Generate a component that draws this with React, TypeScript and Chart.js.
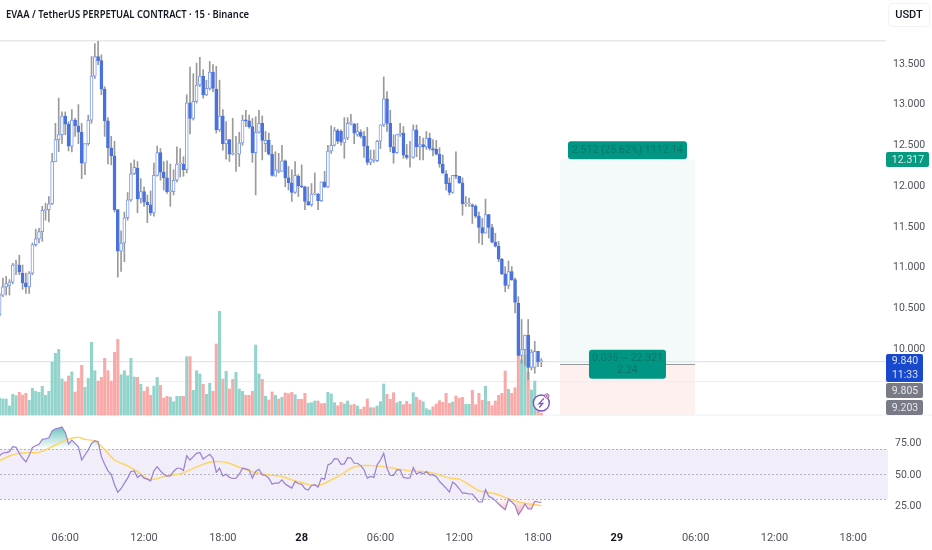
import React, { useEffect, useRef } from "react";
import { Chart, registerables } from "chart.js";

Chart.register(...registerables);

const opens = [
  10.41,10.65,10.75,10.77,10.81,11.02,11.02,10.92,10.80,10.75,
  10.92,11.27,11.34,11.43,11.69,11.70,11.77,12.29,12.56,12.62,
  12.85,12.75,12.48,12.80,12.73,12.65,12.27,12.51,12.80,13.34,
  13.58,13.53,13.18,12.79,12.46,12.36,11.70,11.19,11.29,11.60,
  11.82,12.14,12.21,11.83,11.92,11.79,11.76,11.66,12.12,12.40,
  12.16,12.09,11.92,11.92,12.06,12.26,12.26,12.19,13.01,12.82,
  13.03,13.23,13.34,13.11,13.19,13.39,13.18,12.68,12.85,12.51,
  12.56,12.38,12.38,12.38,12.52,12.80,12.79,12.72,12.40,12.65,
  12.76,12.51,12.55,12.38,12.11,12.17,12.17,12.30,12.09,12.03,
  11.91,12.11,11.99,11.98,11.80,11.76,11.89,11.89,11.81,12.04,
  11.98,12.42,12.49,12.67,12.66,12.52,12.58,12.76,12.75,12.62,
  12.65,12.60,12.48,12.28,12.30,12.30,12.54,12.74,13.06,12.76,
  12.47,12.40,12.62,12.64,12.37,12.34,12.34,12.68,12.47,12.50,
  12.47,12.58,12.45,12.44,12.38,12.26,12.14,12.03,11.91,12.12,
  12.11,12.03,11.77,11.77,11.76,11.74,11.62,11.48,11.41,11.64,
  11.48,11.30,11.25,11.09,10.91,10.77,10.94,10.84,10.55,9.91,
  9.98,10.16,9.76,9.76,9.96,9.83,
];
const closes = [
  10.65,10.75,10.79,10.81,11.02,11.02,10.93,10.80,10.75,10.92,
  11.27,11.34,11.43,11.69,11.70,11.77,12.29,12.56,12.62,12.85,
  12.75,12.48,12.80,12.73,12.65,12.27,12.51,12.80,13.34,13.58,
  13.53,13.18,12.79,12.46,12.36,11.70,11.19,11.29,11.60,11.82,
  12.14,12.22,11.83,11.92,11.79,11.76,11.66,12.12,12.40,12.16,
  12.09,11.92,11.93,12.06,12.26,12.26,12.19,13.01,12.82,13.03,
  13.23,13.34,13.11,13.19,13.39,13.19,12.68,12.85,12.51,12.56,
  12.38,12.38,12.38,12.52,12.80,12.79,12.72,12.40,12.65,12.76,
  12.55,12.55,12.38,12.12,12.19,12.19,12.30,12.09,12.03,11.91,
  12.12,11.99,11.98,11.80,11.76,11.89,11.89,11.81,12.04,11.98,
  12.42,12.49,12.67,12.54,12.53,12.58,12.76,12.76,12.64,12.66,
  12.60,12.48,12.28,12.32,12.32,12.54,12.74,13.06,12.76,12.47,
  12.40,12.62,12.64,12.37,12.34,12.34,12.68,12.47,12.50,12.47,
  12.58,12.45,12.43,12.38,12.26,12.15,12.02,11.91,12.12,12.11,
  12.03,11.77,11.77,11.77,11.74,11.62,11.48,11.41,11.64,11.48,
  11.30,11.25,11.09,10.91,10.77,10.94,10.84,10.56,9.91,9.98,
  10.16,9.76,9.95,9.96,9.83,9.84,
];
const highs = [
  10.67,10.86,10.88,10.84,11.04,11.08,11.14,11.02,10.92,10.94,
  11.29,11.46,11.47,11.74,11.78,11.86,12.39,12.76,13.07,12.90,
  12.90,12.78,12.93,12.82,12.99,12.76,12.51,12.86,13.58,13.74,
  13.77,13.60,13.21,12.83,12.60,12.54,11.70,11.44,11.67,11.91,
  12.27,12.31,12.29,12.08,11.98,11.88,11.93,12.27,12.48,12.45,
  12.29,12.30,12.26,12.19,12.47,12.45,12.35,13.11,13.45,13.37,
  13.50,13.57,13.42,13.29,13.52,13.48,13.46,13.29,12.93,12.78,
  12.56,12.82,12.60,12.65,12.86,12.92,12.86,12.82,12.84,12.92,
  12.85,12.66,12.64,12.49,12.41,12.39,12.49,12.31,12.23,12.19,
  12.29,12.13,12.25,11.99,11.98,12.02,12.15,11.90,12.04,12.17,
  12.49,12.73,12.71,12.69,12.68,12.83,12.83,12.87,12.76,12.76,
  12.68,12.66,12.71,12.43,12.43,12.55,12.74,13.33,13.15,12.92,
  12.62,12.62,12.76,12.72,12.50,12.54,12.74,12.74,12.60,12.58,
  12.66,12.64,12.56,12.55,12.46,12.37,12.18,12.09,12.12,12.41,
  12.11,12.09,11.86,11.84,11.77,11.76,11.67,11.59,11.83,11.64,
  11.52,11.41,11.31,11.10,11.00,11.07,11.00,10.86,10.63,10.35,
  10.16,10.35,9.98,10.08,9.96,9.87,
];
const lows = [
  10.39,10.63,10.65,10.65,10.79,10.90,10.90,10.72,10.67,10.67,
  10.90,11.25,11.29,11.31,11.57,11.55,11.76,12.29,12.41,12.51,
  12.62,12.42,12.41,12.60,12.51,12.08,12.13,12.49,12.76,13.31,
  13.48,13.11,12.60,12.26,12.25,11.67,10.87,10.94,11.06,11.57,
  11.80,12.13,11.66,11.78,11.74,11.54,11.63,11.62,12.11,12.06,
  11.94,11.90,11.74,11.88,12.04,12.10,12.11,12.15,12.63,12.80,
  13.01,13.21,13.07,13.10,13.17,13.15,12.64,12.66,12.43,12.32,
  12.29,12.37,12.17,12.23,12.49,12.72,12.70,12.28,11.88,12.64,
  12.31,12.41,12.37,12.11,12.11,12.15,12.17,11.98,11.94,11.80,
  11.90,11.86,11.97,11.70,11.75,11.74,11.88,11.70,11.80,11.97,
  11.97,12.39,12.48,12.51,12.49,12.33,12.56,12.74,12.51,12.60,
  12.58,12.34,12.25,12.25,12.28,12.29,12.45,12.72,12.66,12.41,
  12.27,12.39,12.60,12.33,12.32,12.22,12.33,12.35,12.31,12.31,
  12.44,12.43,12.36,12.37,12.22,12.14,11.94,11.88,11.90,12.08,
  12.02,11.63,11.74,11.74,11.53,11.60,11.29,11.27,11.41,11.35,
  11.29,11.24,11.06,10.90,10.69,10.73,10.83,10.43,9.90,9.81,
  9.79,9.61,9.73,9.69,9.77,9.77,
];
const volumes = [
  16.7,16,16,9,20.7,19.3,22.7,20,21.7,14.7,
  26.7,23.7,22.7,28.7,19.7,23.7,53,61.7,65.7,36,
  33.3,39,43,23,36.7,49.7,27.7,36.7,72.7,44.3,
  34,37.7,56.7,44.3,34,62.7,75.7,40.3,44.3,39.3,
  56.7,38,37.7,30.7,23.7,28,19.7,29,37.7,29.7,
  17,18.7,17.7,13.3,18.7,18.7,18.7,58.3,58.3,24.7,
  44.3,41,30.7,20.7,31.7,23.7,71,103.7,36,43.7,
  26,35.7,42.7,26,23.7,19.7,19.7,23.7,70,41,
  35.7,18.7,15,23,19.7,16,17.7,22,21.3,22.7,
  20.3,15.7,15.7,21.7,11.7,12.3,14,14,11.3,11.7,
  22.7,21,12.3,9.3,12.7,11,14,10,10.7,9,
  5.7,8,16,7.3,7.3,9,13.3,31,20.7,15.7,
  22.3,12.3,13.7,10.3,13.7,10.7,22.3,17.7,15,13.3,
  6.3,5,8.3,11,14.3,12.7,21.7,11.7,13,19,
  16.7,17.7,10.7,10.7,24.7,10.3,21.7,14.7,28.7,13.7,
  9.3,14,19.7,21.7,44,25.7,21.7,27.3,60,55,
  60,43,25,34,4,2,
];
const volumeSides =
  "uuuuuudddu" + "uuuuuuuuuu" + "dduddduuuu" + "ddddddduuu" + "uududdduud" +
  "dduuuududu" + "uuduuddudu" + "dduuuddduu" + "duddududdd" + "uddduuuddd" +
  "uuudduuddu" + "ddduduuudd" + "duuddduddu" + "uuddddddud" + "dduuddddud" +
  "dddddudddu" + "uduudd";
const rsi = [
  64.7,66.8,67.1,67.9,71.8,71.3,66.5,62.6,59.6,64.7,
  71.3,72.6,73.7,77.7,78.2,79,84.5,86.1,86.7,87.7,
  83.2,74,77.1,74.5,71.8,61.2,65.2,69.2,74.5,76.6,
  75.8,63.9,57.8,52.5,49.8,41.4,35.5,38.2,42.7,46.7,
  52,52.5,47.2,49.3,46.7,45.9,44.5,52.5,55.9,52.5,
  49.8,48.3,48.5,52,54.6,54.6,52.8,64.7,61.2,63.9,
  66.5,67.3,62,63.9,65.7,62.6,51.4,54.6,48.5,49.8,
  47.2,46.4,46.7,49.8,54.6,54.1,53.3,46.7,52,53.8,
  49.3,48.8,46.7,41.9,42.7,42.7,45.3,41.9,40.3,38.7,
  44,42.2,41.9,38.2,37.1,40.8,41.4,39.5,46.7,45.9,
  57.3,58.6,62.3,62,57.8,58.1,63.1,62.8,58.6,58.6,
  56.7,53.3,46.7,48,47.2,57.3,61.2,66.5,54.6,48.8,
  48.8,53.3,53.3,47.2,46.7,46.9,55.1,49.8,51.4,50.1,
  52,49.3,49.3,48,44,41.4,38.7,35.5,43.5,41.4,
  38.2,34.7,34.7,34,34,30.8,27.6,27.6,37.4,32.1,
  30.8,28.7,26,23.6,21.5,30,27.6,25,17.5,21,
  26,22,22,28.1,27.6,27.3,
];
const rsiMaBars = [
  0,3,6,9,12,15,18,21,24,26,29,32,35,39,42,45,47,51,55,58,61,64,67,70,73,76,79,82,85,
  86,89,92,95,98,101,104,107,110,113,117,121,125,129,133,137,140,143,146,151,155,159,165,
];
const rsiMaValues = [
  60.7,64.4,66.5,67.1,67.3,70.5,74.5,77.9,79.3,77.7,76.3,69.7,61.2,56.5,52,46.1,45.9,48.5,50.1,53.3,56.7,59.4,59.9,58.6,55.4,52.5,50.6,49.3,48.5,
  48,45.3,43.2,41.1,41.4,45.3,49.3,54.6,56.7,56.7,55.9,54.1,52.5,52,50.1,46.7,45.9,41.4,36.6,34.2,30.2,27.1,24.7,
];

const timeTickBars = [20, 44, 68, 92, 116, 140, 164, 188, 212, 236, 260];
const timeTickLabels = ["06:00", "12:00", "18:00", "28", "06:00", "12:00", "18:00", "29", "06:00", "12:00", "18:00"];
const boldTimeLabels = ["28", "29"];
const priceTicks = [10, 10.5, 11, 11.5, 12, 12.5, 13, 13.5];
const rsiTicks = [25, 50, 75];

const lastPrice = 9.84;
const countdown = "11:33";
const guideLevel = 9.594;
const entryPrice = 9.805;
const targetPrice = 12.317;
const stopPrice = 9.203;
const zoneStartBar = 170.7;
const zoneEndBar = 211.8;
const targetText = "2.512 (25.62%) 1112.14";
const statLines = ["0.035 ~ 22.321", "2.24"];
const titleText = "EVAA / TetherUS PERPETUAL CONTRACT · 15 · Binance";
const currencyText = "USDT";

const FONT = "Roboto, sans-serif";
const BLUE = "#4a72de";
const BLUE_EDGE = "#7f9cec";
const WICK = "#9a9a9a";
const TEAL_VOL = "#92d3cc";
const RED_VOL = "#f9a9a7";
const AXIS_TEXT = "#4f525c";

function roundRect(ctx: any, x: number, y: number, w: number, h: number, r: number) {
  ctx.beginPath();
  ctx.roundRect(x, y, w, h, r);
}

const panelPlugin = {
  id: "panels",
  beforeDatasetsDraw(chart: any) {
    const { ctx, chartArea, scales } = chart;
    const { x, yPrice, yRsi } = scales;
    const L = chartArea.left;
    const R = chartArea.right;
    ctx.save();

    const zx0 = x.getPixelForValue(zoneStartBar);
    const zx1 = x.getPixelForValue(zoneEndBar);
    const yT = yPrice.getPixelForValue(targetPrice);
    const yE = yPrice.getPixelForValue(entryPrice);
    const yS = yPrice.bottom;
    ctx.fillStyle = "#f3faf9";
    ctx.fillRect(zx0, yT, zx1 - zx0, yE - yT);
    ctx.fillStyle = "#fef0ef";
    ctx.fillRect(zx0, yE, zx1 - zx0, yS - yE);

    ctx.fillStyle = "#dde3f6";
    ctx.fillRect(L, Math.round(yPrice.getPixelForValue(lastPrice)), R - L, 1.2);
    ctx.fillStyle = "#eeeeee";
    ctx.fillRect(L, Math.round(yPrice.getPixelForValue(guideLevel)), R - L, 1.2);
    ctx.fillStyle = "#9a9a9a";
    ctx.fillRect(zx0, Math.round(yE), zx1 - zx0, 1);

    ctx.fillStyle = "#e8e8ea";
    ctx.fillRect(L, chartArea.top - 1, R - L - 2, 1.5);
    ctx.fillStyle = "#f0f2f7";
    ctx.fillRect(L, yPrice.bottom - 0.5, chart.width, 1.2);

    const y70 = yRsi.getPixelForValue(70);
    const y50 = yRsi.getPixelForValue(50);
    const y30 = yRsi.getPixelForValue(30);
    ctx.fillStyle = "#f1edf9";
    ctx.fillRect(L, y70, R - L, y30 - y70);
    ctx.strokeStyle = "#b4b4bc";
    ctx.lineWidth = 1;
    ctx.setLineDash([2, 2]);
    [y70, y50, y30].forEach((yy: number) => {
      ctx.beginPath();
      ctx.moveTo(L, Math.round(yy) + 0.5);
      ctx.lineTo(R, Math.round(yy) + 0.5);
      ctx.stroke();
    });
    ctx.restore();
  },
  afterDraw(chart: any) {
    const { ctx, scales } = chart;
    const { x, yPrice } = scales;
    ctx.save();
    ctx.textBaseline = "middle";
    ctx.textAlign = "center";

    const yT = yPrice.getPixelForValue(targetPrice);
    const yE = yPrice.getPixelForValue(entryPrice);
    const cx = (x.getPixelForValue(zoneStartBar) + x.getPixelForValue(zoneEndBar)) / 2;
    ctx.fillStyle = "#009684";
    roundRect(ctx, cx - 59.5, yT - 18, 119, 18, 3);
    ctx.fill();
    roundRect(ctx, cx - 38.5, yE - 14, 77, 29, 3);
    ctx.fill();
    ctx.fillStyle = "#0b7566";
    ctx.font = `10.5px ${FONT}`;
    ctx.fillText(targetText, cx, yT - 8.5);
    ctx.fillText(statLines[0], cx, yE - 5);
    ctx.fillText(statLines[1], cx, yE + 7);

    const flag = (top: number, h: number, right: number, color: string, lines: string[]) => {
      ctx.fillStyle = color;
      roundRect(ctx, 886, top, right - 886, h, 2);
      ctx.fill();
      ctx.fillStyle = "rgba(255,255,255,0.82)";
      ctx.font = `10.5px ${FONT}`;
      lines.forEach((t, i) => {
        ctx.fillText(t, (886 + right) / 2 + 0.5, top + (h / lines.length) * (i + 0.5) + 0.5);
      });
    };
    flag(Math.round(yT) - 7, 15, 929, "#089981", [targetPrice.toFixed(3)]);
    flag(354, 28, 923, "#1848cc", [lastPrice.toFixed(3), countdown]);
    flag(383, 15, 923, "#787b86", [entryPrice.toFixed(3)]);
    flag(400, 15, 923, "#787b86", [stopPrice.toFixed(3)]);

    const bx = x.getPixelForValue(165);
    const by = yPrice.bottom - 12;
    ctx.beginPath();
    ctx.arc(bx, by, 8, 0, Math.PI * 2);
    ctx.fillStyle = "rgba(255,255,255,0.85)";
    ctx.fill();
    ctx.lineWidth = 1.4;
    ctx.strokeStyle = "#7a55c0";
    ctx.stroke();
    ctx.beginPath();
    ctx.moveTo(bx + 2.5, by - 4.5);
    ctx.lineTo(bx - 2.5, by + 0.8);
    ctx.lineTo(bx + 1.5, by + 0.2);
    ctx.lineTo(bx - 2, by + 4.5);
    ctx.lineWidth = 1.2;
    ctx.stroke();
    ctx.beginPath();
    ctx.arc(bx + 5.5, by - 7, 2.2, 0, Math.PI * 2);
    ctx.fillStyle = "#ffffff";
    ctx.fill();
    ctx.lineWidth = 1;
    ctx.strokeStyle = "#7a55c0";
    ctx.stroke();
    ctx.beginPath();
    ctx.arc(bx + 5.5, by - 7, 1, 0, Math.PI * 2);
    ctx.fillStyle = "#ef5350";
    ctx.fill();
    ctx.restore();
  },
};

export default function App() {
  const ref = useRef<HTMLCanvasElement | null>(null);

  useEffect(() => {
    const canvas = ref.current!;
    const ctx = canvas.getContext("2d")!;
    const greenFade = ctx.createLinearGradient(0, 424, 0, 449);
    greenFade.addColorStop(0, "rgba(38,166,154,0.75)");
    greenFade.addColorStop(1, "rgba(38,166,154,0)");
    const redFade = ctx.createLinearGradient(0, 499, 0, 516);
    redFade.addColorStop(0, "rgba(239,83,80,0)");
    redFade.addColorStop(1, "rgba(239,83,80,0.55)");

    const rsiPoints = rsi.map((v, i) => ({ x: i, y: v }));

    const chart = new Chart(canvas, {
      type: "bar",
      data: {
        datasets: [
          {
            type: "bar",
            label: "Volume",
            data: volumes.map((v, i) => ({ x: i, y: v })),
            yAxisID: "yVolume",
            xAxisID: "x",
            barThickness: 2.4,
            grouped: false,
            order: 6,
            backgroundColor: volumes.map((_, i) => (volumeSides[i] === "u" ? TEAL_VOL : RED_VOL)),
          },
          {
            type: "bar",
            label: "Wicks",
            data: highs.map((h, i) => ({ x: i, y: [lows[i], h] })),
            yAxisID: "yPrice",
            xAxisID: "x",
            barThickness: 1,
            grouped: false,
            order: 4,
            backgroundColor: WICK,
          },
          {
            type: "bar",
            label: "Candles",
            data: opens.map((o, i) => ({ x: i, y: [o, closes[i]] })),
            yAxisID: "yPrice",
            xAxisID: "x",
            barThickness: 3,
            minBarLength: 1,
            grouped: false,
            order: 3,
            borderSkipped: false,
            borderWidth: 1,
            backgroundColor: opens.map((o, i) => (closes[i] >= o ? "#ffffff" : BLUE)),
            borderColor: opens.map((o, i) => (closes[i] >= o ? BLUE_EDGE : BLUE)),
          },
          {
            type: "line",
            label: "RSI overbought",
            data: rsiPoints,
            yAxisID: "yRsi",
            xAxisID: "x",
            order: 2,
            pointRadius: 0,
            borderWidth: 0,
            borderColor: "transparent",
            fill: { target: { value: 70 }, above: greenFade, below: "transparent" },
          },
          {
            type: "line",
            label: "RSI oversold",
            data: rsiPoints,
            yAxisID: "yRsi",
            xAxisID: "x",
            order: 2,
            pointRadius: 0,
            borderWidth: 0,
            borderColor: "transparent",
            fill: { target: { value: 30 }, above: "transparent", below: redFade },
          },
          {
            type: "line",
            label: "RSI MA",
            data: rsiMaBars.map((b, i) => ({ x: b, y: rsiMaValues[i] })),
            yAxisID: "yRsi",
            xAxisID: "x",
            order: 1,
            pointRadius: 0,
            borderWidth: 1.5,
            borderColor: "#fdd55f",
            tension: 0.3,
          },
          {
            type: "line",
            label: "RSI",
            data: rsiPoints,
            yAxisID: "yRsi",
            xAxisID: "x",
            order: 0,
            pointRadius: 0,
            borderWidth: 1.2,
            borderColor: "#9a7fd0",
          },
        ],
      } as any,
      options: {
        responsive: false,
        animation: false,
        events: [],
        layout: { padding: { top: 41, left: 0, right: 0, bottom: 0 } },
        plugins: { legend: { display: false }, tooltip: { enabled: false }, title: { display: false } },
        scales: {
          x: {
            type: "linear",
            offset: false,
            min: 0.12,
            max: 270.6,
            position: "bottom",
            grid: { display: false, drawTicks: false },
            border: { display: false },
            afterBuildTicks: (axis: any) => {
              axis.ticks = timeTickBars.map((v) => ({ value: v }));
            },
            afterFit: (axis: any) => {
              axis.height = 23;
            },
            ticks: {
              autoSkip: false,
              maxRotation: 0,
              padding: 5,
              color: (c: any) => (boldTimeLabels.includes(tickName(c.tick?.value)) ? "#131722" : AXIS_TEXT),
              font: (c: any) => ({
                family: FONT,
                size: 11,
                weight: boldTimeLabels.includes(tickName(c.tick?.value)) ? "bold" : "normal",
              }),
              callback: (v: any) => tickName(v),
            },
          },
          yPrice: {
            type: "linear",
            position: "right",
            stack: "panes",
            stackWeight: 374,
            weight: 1,
            min: 9.177,
            max: 13.771,
            grid: { display: false, drawTicks: false },
            border: { display: false },
            afterBuildTicks: (axis: any) => {
              axis.ticks = priceTicks.map((v) => ({ value: v }));
            },
            afterFit: (axis: any) => {
              axis.width = 44;
            },
            ticks: {
              padding: 5,
              labelOffset: 1,
              crossAlign: "center",
              color: AXIS_TEXT,
              font: { family: FONT, size: 10.5 },
              callback: (v: any) => Number(v).toFixed(3),
            },
          },
          yRsi: {
            type: "linear",
            position: "right",
            stack: "panes",
            stackWeight: 112,
            weight: 2,
            min: 7.6,
            max: 97.2,
            grid: { display: false, drawTicks: false },
            border: { display: false },
            afterBuildTicks: (axis: any) => {
              axis.ticks = rsiTicks.map((v) => ({ value: v }));
            },
            afterFit: (axis: any) => {
              axis.width = 44;
            },
            ticks: {
              padding: 7,
              labelOffset: 1,
              crossAlign: "center",
              color: AXIS_TEXT,
              font: { family: FONT, size: 10.5 },
              callback: (v: any) => Number(v).toFixed(2),
            },
          },
          yVolume: {
            type: "linear",
            position: "right",
            display: false,
            min: -112,
            max: 374,
            grid: { display: false },
          },
        },
      } as any,
      plugins: [panelPlugin],
    });
    return () => chart.destroy();
  }, []);

  return (
    <div style={{ position: "fixed", left: 0, top: 0, width: 932, height: 550, background: "#fff", overflow: "hidden" }}>
      <canvas ref={ref} width={932} height={550} style={{ display: "block", width: 932, height: 550 }} />
      <div
        style={{
          position: "absolute",
          left: 6,
          top: 6,
          font: `600 11.5px "Noto Sans", sans-serif`,
          color: "#131722",
          whiteSpace: "nowrap",
          transform: "scaleX(0.82)",
          transformOrigin: "left center",
        }}
      >
        {titleText}
      </div>
      <div
        style={{
          position: "absolute",
          left: 888,
          top: 3,
          width: 40,
          height: 22,
          border: "1px solid #f0f3fa",
          borderRadius: 4,
          font: `500 11px ${FONT}`,
          lineHeight: "22px",
          textAlign: "center",
          color: "#131722",
        }}
      >
        {currencyText}
      </div>
    </div>
  );
}

function tickName(value: any): string {
  const i = timeTickBars.indexOf(value);
  return i >= 0 ? timeTickLabels[i] : "";
}
